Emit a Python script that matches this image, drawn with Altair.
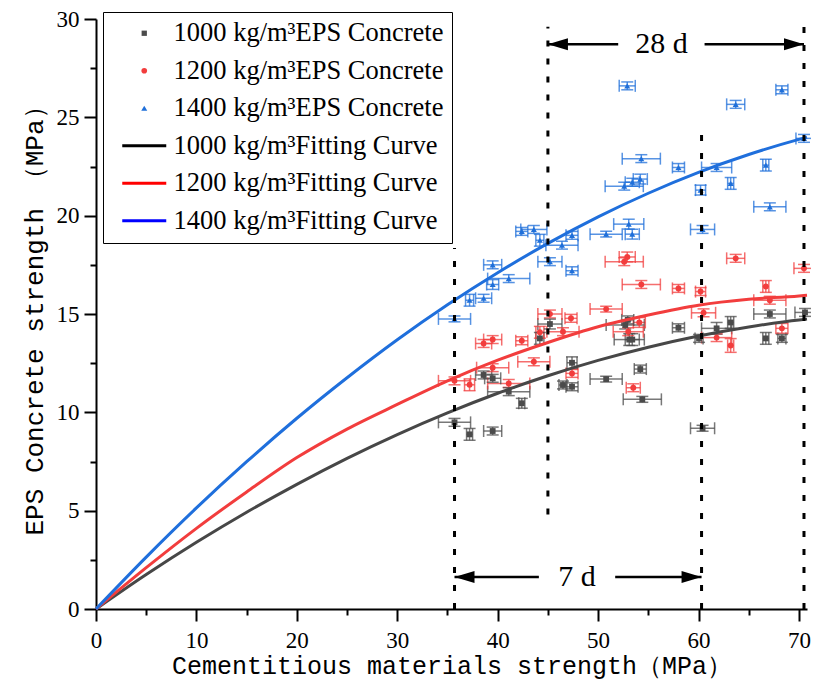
import altair as alt
import pandas as pd

# ---------------- series names / styles ----------------
N = ["1000 kg/m³EPS Concrete", "1200 kg/m³EPS Concrete", "1400 kg/m³EPS Concrete",
     "1000 kg/m³Fitting Curve", "1200 kg/m³Fitting Curve", "1400 kg/m³Fitting Curve"]
# colours used by the legend (points + legend line samples)
legend_colors = ["#4b4b4b", "#f23d3d", "#1f6fd9", "#000000", "#ff0000", "#0000ff"]
series_shapes = ["square", "circle", "triangle-up", "stroke", "stroke", "stroke"]
point_sizes = [34, 36, 44]
# colours of the drawn fitting curves
curve_colors = ["#474747", "#f23d3d", "#1f6fdc"]

# ---------------- measured points ----------------
x_1000 = [35.7, 37.2, 38.6, 39.5, 39.5, 41.1, 42.4, 44.2, 45.2, 46.5, 47.4, 47.4, 50.8, 52.7,
          52.95, 53.1, 53.4, 54.2, 54.4, 58.0, 60.05, 60.4, 61.8, 63.2, 66.7, 67.1, 68.3, 70.6]
y_1000 = [9.49, 8.88, 11.9, 9.05, 11.73, 11.05, 10.46, 13.76, 14.49, 11.39, 11.3, 12.52, 11.69, 14.44,
          14.7, 13.7, 13.7, 12.2, 10.66, 14.3, 13.76, 9.19, 14.27, 14.57, 13.76, 15.0, 13.76, 15.08]
xerr_1000 = [1.6, 0.3, 0.8, 0.9, 0.8, 2.1, 0.3, 0.4, 1.2, 0.4, 0.6, 0.5, 1.6, 1.9,
             0.6, 1.5, 0.7, 0.6, 1.9, 0.6, 0.4, 1.2, 1.5, 0.3, 0.3, 1.6, 0.4, 1.0]
yerr_1000 = [0.2, 0.3, 0.2, 0.2, 0.2, 0.2, 0.25, 0.3, 0.25, 0.2, 0.2, 0.3, 0.15, 0.2,
             0.2, 0.3, 0.3, 0.2, 0.15, 0.2, 0.2, 0.15, 0.3, 0.3, 0.3, 0.2, 0.2, 0.2]

x_1200 = [35.7, 37.2, 38.6, 39.5, 39.5, 41.1, 42.4, 43.6, 44.2, 45.2, 46.5, 47.3, 47.4, 50.8, 52.6,
          52.9, 53.0, 53.5, 54.1, 54.3, 58.0, 60.2, 60.5, 61.8, 63.2, 63.7, 66.7, 67.1, 68.3, 70.5]
y_1200 = [11.6, 11.4, 13.5, 13.7, 12.27, 11.47, 13.64, 12.57, 14.07, 15.0, 14.1, 14.78, 11.98, 15.25, 17.66,
          17.9, 14.1, 11.25, 14.57, 16.5, 16.3, 16.14, 15.06, 13.8, 13.4, 17.83, 16.4, 15.7, 14.27, 17.32]
xerr_1200 = [1.6, 0.5, 0.8, 0.9, 1.6, 2.1, 0.6, 1.6, 0.4, 1.2, 1.6, 0.6, 0.6, 1.6, 1.9,
             0.8, 1.5, 0.7, 0.6, 1.9, 0.6, 0.5, 1.2, 1.5, 0.3, 0.9, 0.3, 1.6, 0.6, 1.0]
yerr_1200 = [0.2, 0.3, 0.2, 0.2, 0.2, 0.2, 0.2, 0.2, 0.3, 0.2, 0.2, 0.2, 0.2, 0.15, 0.2,
             0.25, 0.2, 0.2, 0.25, 0.2, 0.2, 0.2, 0.2, 0.2, 0.35, 0.2, 0.3, 0.2, 0.25, 0.2]

x_1400 = [35.7, 37.2, 38.6, 39.5, 39.5, 41.1, 42.4, 43.6, 44.2, 45.2, 46.4, 47.4, 47.4, 50.8, 52.6, 52.9,
          53.05, 53.4, 53.4, 54.2, 54.3, 58.0, 60.2, 60.4, 61.8, 63.2, 63.7, 66.7, 67.1, 68.3, 70.5]
y_1400 = [14.75, 15.7, 15.8, 16.5, 17.5, 16.8, 19.2, 19.3, 18.75, 17.66, 18.5, 19.0, 17.2, 19.06, 21.5, 26.6,
          19.57, 21.7, 19.06, 21.86, 22.9, 22.45, 21.3, 19.3, 22.45, 21.64, 25.66, 22.57, 20.45, 26.4, 23.93]
xerr_1400 = [1.6, 0.4, 0.8, 0.6, 0.9, 2.1, 0.6, 1.3, 0.4, 1.2, 1.6, 0.6, 0.6, 1.6, 1.9, 0.8,
             1.5, 0.7, 0.7, 0.7, 1.9, 0.6, 0.5, 1.2, 1.5, 0.3, 0.9, 0.3, 1.6, 0.6, 0.8]
yerr_1400 = [0.15, 0.3, 0.2, 0.25, 0.2, 0.2, 0.2, 0.2, 0.3, 0.2, 0.2, 0.2, 0.2, 0.15, 0.2, 0.2,
             0.25, 0.2, 0.25, 0.25, 0.2, 0.2, 0.25, 0.2, 0.2, 0.3, 0.2, 0.3, 0.2, 0.2, 0.2]

# ---------------- fitting curves ----------------
curve_x = [0, 5, 10, 15, 20, 25, 30, 35, 40, 45, 50, 55, 60, 65, 70, 70.8]
curve_1000 = [0, 1.75, 3.39, 4.92, 6.34, 7.66, 8.87, 9.97, 10.97, 11.86, 12.64, 13.31, 13.88, 14.34, 14.70, 14.74]
curve_1200 = [0, 2.1, 4.1, 5.95, 7.7, 9.15, 10.4, 11.6, 12.65, 13.55, 14.35, 14.95, 15.45, 15.75, 15.92, 15.96]
curve_1400 = [0, 2.64, 5.14, 7.49, 9.70, 11.76, 13.69, 15.47, 17.10, 18.59, 19.94, 21.14, 22.20, 23.11, 23.88, 23.99]

# ---------------- annotations ----------------
vline_x = [35.7, 45.0, 60.3, 70.5]
vline_y1 = [0, 4.8, 0, 0]
vline_y2 = [18.35, 29.6, 24.7, 29.8]

seg_x1 = [45.0, 60.6, 35.7, 51.7]
seg_x2 = [52.0, 70.5, 44.1, 60.3]
seg_y = [28.72, 28.72, 1.63, 1.63]
head_left_x = [45.0, 35.7]
head_right_x = [70.5, 60.3]
head_y = [28.72, 1.63]
label_text = ["28 d", "7 d"]
label_x = [56.3, 47.9]
label_y = [28.72, 1.63]

# ---------------- tables ----------------
rows = []
for name, xs, ys, xe, ye in [(N[0], x_1000, y_1000, xerr_1000, yerr_1000),
                             (N[1], x_1200, y_1200, xerr_1200, yerr_1200),
                             (N[2], x_1400, y_1400, xerr_1400, yerr_1400)]:
    for a, b, c, d in zip(xs, ys, xe, ye):
        rows.append({"series": name, "x": a, "y": b, "xlo": a - c, "xhi": a + c, "ylo": b - d, "yhi": b + d})
pts = pd.DataFrame(rows)

crow = []
for name, cy in [(N[3], curve_1000), (N[4], curve_1200), (N[5], curve_1400)]:
    for a, b in zip(curve_x, cy):
        crow.append({"curve": name, "x": a, "y": b})
curves = pd.DataFrame(crow)

vlines = pd.DataFrame({"x": vline_x, "ylo": vline_y1, "yhi": vline_y2})
segs = pd.DataFrame({"xlo": seg_x1, "xhi": seg_x2, "y": seg_y})
hl = pd.DataFrame({"x": head_left_x, "y": head_y})
hr = pd.DataFrame({"x": head_right_x, "y": head_y})
labs = pd.DataFrame({"x": label_x, "y": label_y, "t": label_text})

# ---------------- scales / axes ----------------
xscale = alt.Scale(domain=[0, 70.8], nice=False, zero=False)
yscale = alt.Scale(domain=[0, 30], nice=False, zero=False)

xaxis = alt.Axis(values=[v * 5 for v in range(15)],
                 labelExpr="datum.value % 10 === 0 ? format(datum.value, 'd') : ''",
                 tickSize={"condition": {"test": "datum.value % 10 === 0", "value": 12}, "value": 6},
                 labelFlush=False, labelOverlap=False, labelPadding=8, titlePadding=1,
                 titleFontSize=25)
yaxis = alt.Axis(values=[v * 2.5 for v in range(13)],
                 labelExpr="datum.value % 5 === 0 ? format(datum.value, 'd') : ''",
                 tickSize={"condition": {"test": "datum.value % 5 === 0", "value": 12}, "value": 6},
                 labelOverlap=False, labelPadding=5, titlePadding=9, titleFontSize=26)

XT = "Cementitious materials strength（MPa）"
YT = "EPS Concrete strength （MPa）"


def X(f):
    return alt.X(f"{f}:Q", scale=xscale, axis=xaxis, title=XT)


def Y(f):
    return alt.Y(f"{f}:Q", scale=yscale, axis=yaxis, title=YT)


fill_sig = ("datum.value === '%s' ? '#4b4b4b' : datum.value === '%s' ? '#f23d3d' : "
            "datum.value === '%s' ? '#1f6fd9' : 'transparent'") % (N[0], N[1], N[2])
stroke_sig = ("datum.value === '%s' ? '#000000' : datum.value === '%s' ? '#ff0000' : "
              "datum.value === '%s' ? '#0000ff' : 'transparent'") % (N[3], N[4], N[5])
sw_sig = ("datum.value === '%s' || datum.value === '%s' || datum.value === '%s' ? 0 : 3") % (N[0], N[1], N[2])
size_sig = ("datum.value === '%s' ? 28 : datum.value === '%s' ? 32 : datum.value === '%s' ? 36 : 1936") % (N[0], N[1], N[2])

legend = alt.Legend(
    title=None, orient="none", legendX=7, legendY=-7, direction="vertical",
    fillColor="white", strokeColor="black", padding=8,
    labelFont="Liberation Serif", labelFontSize=26.5, labelColor="black", labelLimit=0,
    labelOffset=16, rowPadding=10.5, symbolOpacity=1, symbolOffset=20,
    symbolFillColor={"expr": fill_sig},
    symbolStrokeColor={"expr": stroke_sig},
    symbolStrokeWidth={"expr": sw_sig},
    symbolSize={"expr": size_sig},
)

C = alt.Color("series:N", scale=alt.Scale(domain=N, range=legend_colors), legend=legend)
SH = alt.Shape("series:N", scale=alt.Scale(domain=N, range=series_shapes), legend=legend)
SZ = alt.Size("series:N", scale=alt.Scale(domain=N[:3], range=point_sizes), legend=None)

base = alt.Chart(pts)
eb_op = 0.75
hbar = base.mark_rule(strokeWidth=1.5, opacity=eb_op).encode(x=X("xlo"), x2="xhi", y=Y("y"), color=C)
hcap1 = base.mark_tick(orient="vertical", size=12, thickness=1.5, opacity=eb_op).encode(x=X("xlo"), y=Y("y"), color=C)
hcap2 = base.mark_tick(orient="vertical", size=12, thickness=1.5, opacity=eb_op).encode(x=X("xhi"), y=Y("y"), color=C)
vbar = base.mark_rule(strokeWidth=1.5, opacity=eb_op).encode(x=X("x"), y=Y("ylo"), y2="yhi", color=C)
vcap1 = base.mark_tick(orient="horizontal", size=12, thickness=1.5, opacity=eb_op).encode(x=X("x"), y=Y("ylo"), color=C)
vcap2 = base.mark_tick(orient="horizontal", size=12, thickness=1.5, opacity=eb_op).encode(x=X("x"), y=Y("yhi"), color=C)
points = base.mark_point(filled=True, opacity=1).encode(x=X("x"), y=Y("y"), color=C, shape=SH, size=SZ)

lines = alt.Chart(curves).mark_line(strokeWidth=3, interpolate="monotone").encode(
    x=X("x"), y=Y("y"),
    stroke=alt.Stroke("curve:N", scale=alt.Scale(domain=N[3:], range=curve_colors), legend=None))

dotted = alt.Chart(vlines).mark_rule(strokeDash=[6, 12], strokeWidth=3, color="black").encode(
    x=X("x"), y=Y("ylo"), y2="yhi")
arrows = alt.Chart(segs).mark_rule(strokeWidth=2.5, color="black").encode(x=X("xlo"), x2="xhi", y=Y("y"))
headL = alt.Chart(hl).mark_point(shape="M0,0 L2,-0.6 L2,0.6 Z", size=400, filled=True, color="black",
                                 opacity=1).encode(x=X("x"), y=Y("y"))
headR = alt.Chart(hr).mark_point(shape="M0,0 L-2,-0.6 L-2,0.6 Z", size=400, filled=True, color="black",
                                 opacity=1).encode(x=X("x"), y=Y("y"))
texts = alt.Chart(labs).mark_text(font="Liberation Serif", fontSize=30, color="black").encode(
    x=X("x"), y=Y("y"), text="t:N")

chart = alt.layer(hbar, hcap1, hcap2, vbar, vcap1, vcap2, points, lines, dotted, arrows, headL, headR, texts).properties(
    width=711, height=590,
    autosize=alt.AutoSizeParams(type="none"),
    padding={"left": 88, "top": 11, "right": 4, "bottom": 72},
).configure_view(stroke=None).configure_axis(
    grid=False, domainColor="black", domainWidth=2, tickColor="black", tickWidth=2,
    labelFont="Liberation Serif", labelFontSize=23, labelColor="black",
    titleFont="Liberation Mono", titleColor="black", titleFontWeight="normal",
)

chart.save("out.html", embed_options={"renderer": "svg", "actions": False})
